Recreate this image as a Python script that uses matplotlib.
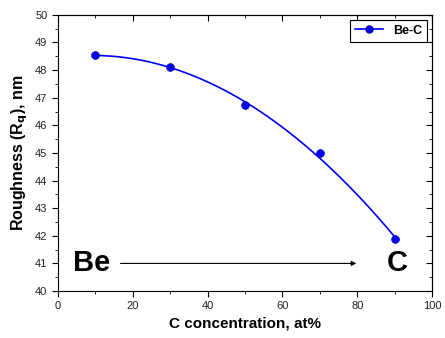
import numpy as np
import matplotlib
matplotlib.use("Agg")
import matplotlib.pyplot as plt
from matplotlib.ticker import MultipleLocator

plt.rcParams['font.family'] = ['Liberation Sans', 'DejaVu Sans']

conc = [10, 30, 50, 70, 90]
roughness = [48.55, 48.1, 46.72, 44.98, 41.9]

fig = plt.figure(figsize=(4.45, 3.38), dpi=100)
ax = fig.add_axes([0.130, 0.139, 0.841, 0.817])

# smooth fit through the measured points
coef = np.polyfit(conc, roughness, 2)
xf = np.linspace(conc[0], conc[-1], 200)
ax.plot(xf, np.polyval(coef, xf), color='#0000ff', lw=1.2)
ax.plot(conc, roughness, 'o', color='#0000ff', ms=5.5, mec='#0000aa', mew=0.6)
ax.plot([], [], '-o', color='#0000ff', ms=5, mec='#0000aa', lw=1.2, label='Be-C')

ax.set_xlim(0, 100)
ax.set_ylim(40, 50)
ax.xaxis.set_major_locator(MultipleLocator(20))
ax.xaxis.set_minor_locator(MultipleLocator(10))
ax.yaxis.set_major_locator(MultipleLocator(1))
ax.yaxis.set_minor_locator(MultipleLocator(0.5))
ax.tick_params(which='both', direction='out', labelsize=8, top=False, right=False,
               labelcolor='#222222')
ax.tick_params(which='major', length=4)
ax.tick_params(which='minor', length=2)

# inward ticks without labels on top and right
top = ax.secondary_xaxis('top')
top.xaxis.set_major_locator(MultipleLocator(20))
top.xaxis.set_minor_locator(MultipleLocator(10))
top.set_xticklabels([])
right = ax.secondary_yaxis('right')
right.yaxis.set_major_locator(MultipleLocator(1))
right.yaxis.set_minor_locator(MultipleLocator(0.5))
right.set_yticklabels([])
for sec in (top, right):
    sec.tick_params(which='both', direction='in')
    sec.tick_params(which='major', length=4)
    sec.tick_params(which='minor', length=2)

ax.set_xlabel('C concentration, at%', fontsize=11, fontweight='bold')
ax.set_ylabel('Roughness (R$_\\mathbf{q}$), nm', fontsize=11.5, fontweight='bold')

ax.text(9, 41, 'Be', fontsize=21, fontweight='bold', ha='center', va='center')
ax.text(90.8, 41, 'C', fontsize=21, fontweight='bold', ha='center', va='center')
ax.annotate('', xy=(80.5, 41), xytext=(16, 41),
            arrowprops=dict(arrowstyle='-|>', color='black', lw=0.8, mutation_scale=7))

leg = ax.legend(loc='upper right', prop={'weight': 'bold', 'size': 9},
                fancybox=False, edgecolor='black', framealpha=1,
                borderaxespad=0.4, handlelength=2.2)
leg.get_frame().set_linewidth(0.8)

fig.savefig('out.png', dpi=100)
